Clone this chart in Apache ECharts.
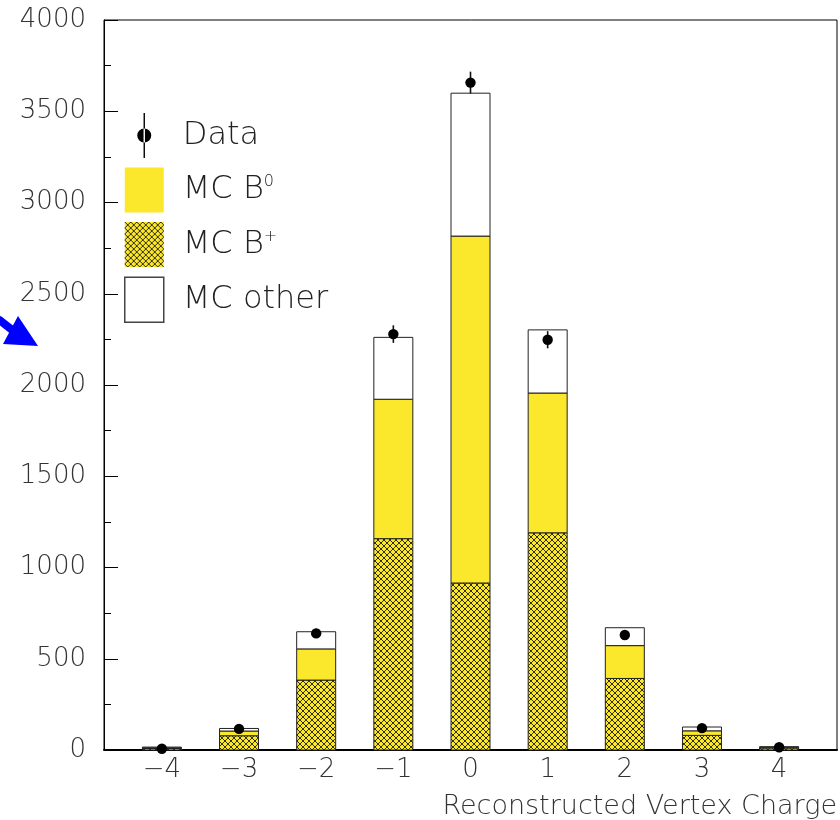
<!DOCTYPE html>
<html style="height: 100%">
<head>
    <meta charset="utf-8">
    <script src="https://cdn.jsdelivr.net/npm/echarts@6/dist/echarts.min.js"></script>
</head>
<body style="height: 100%; margin: 0; background: #fff">
    <div id="main" style="width: 840px; height: 820px;"></div>
    <script type="text/javascript">
    // vertex charge bins
    var charges = [-4, -3, -2, -1, 0, 1, 2, 3, 4];
    // stacked MC contributions (bottom to top)
    var mcBplus = [8, 78, 383, 1158, 915, 1190, 392, 80, 11];
    var mcB0 = [4, 26, 171, 764, 1901, 766, 180, 25, 4];
    var mcOther = [4, 14, 94, 339, 783, 346, 98, 21, 3];
    // data points and their errors
    var dataVals = [7, 116, 639, 2279, 3657, 2248, 630, 120, 15];
    var dataErrs = [3, 11, 25, 48, 60, 47, 25, 11, 4];
    var yTicks = [0, 500, 1000, 1500, 2000, 2500, 3000, 3500, 4000];

    var FONT = 'DejaVu Sans';
    var YELLOW = '#fbe72c';
    var BAR_W = 39;

    // cross-hatch fill for B+
    function hatch() {
        var c = document.createElement('canvas');
        c.width = 6; c.height = 6;
        var g = c.getContext('2d');
        g.fillStyle = YELLOW;
        g.fillRect(0, 0, 6, 6);
        g.strokeStyle = '#000';
        g.lineWidth = 0.8;
        g.beginPath();
        g.moveTo(-1, -1); g.lineTo(7, 7);
        g.moveTo(7, -1); g.lineTo(-1, 7);
        g.stroke();
        return c;
    }

    // [charge, bottom, top] for each stacked segment
    function segments(vals, below) {
        return charges.map(function (c, i) {
            var base = 0;
            below.forEach(function (arr) { base += arr[i]; });
            return [c, base, base + vals[i]];
        });
    }

    function renderBar(params, api) {
        var x = api.value(0);
        var p0 = api.coord([x, api.value(1)]);
        var p1 = api.coord([x, api.value(2)]);
        var style = api.style();
        style.stroke = '#222';
        style.lineWidth = 1;
        return {
            type: 'rect',
            shape: { x: p0[0] - BAR_W / 2, y: p1[1], width: BAR_W, height: p0[1] - p1[1] },
            style: style
        };
    }

    var myChart = echarts.init(document.getElementById('main'));

    var option = {
        animation: false,
        grid: {
            left: 104, right: 3, top: 20, bottom: 68,
            show: true, borderColor: '#000', borderWidth: 1
        },
        legend: {
            orient: 'vertical',
            left: 124,
            top: 113,
            padding: 0,
            itemWidth: 39,
            itemHeight: 45,
            itemGap: 9.5,
            selectedMode: false,
            textStyle: {
                fontFamily: FONT, fontWeight: 200, fontSize: 32, color: '#222',
                padding: [0, 0, 0, 14],
                rich: {
                    n: { fontFamily: FONT, fontWeight: 200, fontSize: 32, color: '#222' },
                    s: { fontFamily: FONT, fontWeight: 200, fontSize: 16, color: '#222', verticalAlign: 'top' }
                }
            },
            formatter: function (name) {
                if (name === 'MC B0') return '{n|MC B}{s|0}';
                if (name === 'MC B+') return '{n|MC B}{s|+}';
                return '{n|' + name + '}';
            },
            data: [
                { name: 'Data', icon: 'path://M0 0M39 45M18.8 0h1.4v45h-1.4zM12.5 22.5a7 7 0 1 0 14 0a7 7 0 1 0 -14 0z',
                  itemStyle: { color: '#000', borderWidth: 0 } },
                { name: 'MC B0', icon: 'rect', itemStyle: { borderWidth: 0 } },
                { name: 'MC B+', icon: 'rect', itemStyle: { borderWidth: 0 } },
                { name: 'MC other', icon: 'rect', itemStyle: { borderColor: '#444', borderWidth: 1.5 } }
            ]
        },
        xAxis: {
            type: 'value',
            min: -4.75,
            max: 4.75,
            splitLine: { show: false },
            axisLine: { show: true, onZero: false, lineStyle: { color: '#000', width: 2 } },
            axisTick: { show: false },
            axisLabel: {
                customValues: charges,
                margin: 7,
                fontFamily: FONT, fontWeight: 200, fontSize: 26, color: '#333',
                formatter: function (v) { return String(v).replace('-', '\u2212'); }
            },
            name: 'Reconstructed Vertex Charge',
            nameLocation: 'end',
            nameGap: 0,
            nameTextStyle: {
                fontFamily: FONT, fontWeight: 200, fontSize: 27, color: '#333',
                align: 'right', verticalAlign: 'top', padding: [43, 0, 0, 0]
            }
        },
        yAxis: {
            type: 'value',
            min: 0,
            max: 4000,
            interval: 500,
            splitLine: { show: false },
            axisLine: { show: true, onZero: false, lineStyle: { color: '#000', width: 1 } },
            axisTick: { show: true, inside: true, length: 14, lineStyle: { color: '#000' } },
            minorTick: { show: true, splitNumber: 2, length: 7, lineStyle: { color: '#000' } },
            axisLabel: {
                customValues: yTicks,
                margin: 18,
                fontFamily: FONT, fontWeight: 200, fontSize: 26, color: '#333',
                formatter: function (v) { return String(v); }
            }
        },
        graphic: [
            // blue annotation arrow on the left
            { type: 'line', shape: { x1: -2, y1: 319, x2: 16, y2: 333 },
              style: { stroke: '#0000ff', lineWidth: 8 } },
            { type: 'polygon', shape: { points: [[18, 316], [38, 346], [3, 344]] },
              style: { fill: '#0000ff' } }
        ],
        series: [
            {
                name: 'MC B+', type: 'custom', renderItem: renderBar,
                itemStyle: { color: { image: hatch(), repeat: 'repeat' } },
                data: segments(mcBplus, [])
            },
            {
                name: 'MC B0', type: 'custom', renderItem: renderBar,
                itemStyle: { color: YELLOW },
                data: segments(mcB0, [mcBplus])
            },
            {
                name: 'MC other', type: 'custom', renderItem: renderBar,
                itemStyle: { color: '#fff' },
                data: segments(mcOther, [mcBplus, mcB0])
            },
            {
                name: 'Data', type: 'custom', z: 10,
                itemStyle: { color: '#000' },
                data: charges.map(function (c, i) { return [c, dataVals[i], dataErrs[i]]; }),
                renderItem: function (params, api) {
                    var x = api.value(0), y = api.value(1), e = api.value(2);
                    var p = api.coord([x, y]);
                    var lo = api.coord([x, y - e]);
                    var hi = api.coord([x, y + e]);
                    return {
                        type: 'group',
                        children: [
                            { type: 'line', shape: { x1: p[0], y1: lo[1], x2: p[0], y2: hi[1] },
                              style: { stroke: '#111', lineWidth: 1.6 } },
                            { type: 'circle', shape: { cx: p[0], cy: p[1], r: 5.2 },
                              style: { fill: '#000' } }
                        ]
                    };
                }
            }
        ]
    };

    myChart.setOption(option);
    </script>
</body>
</html>
